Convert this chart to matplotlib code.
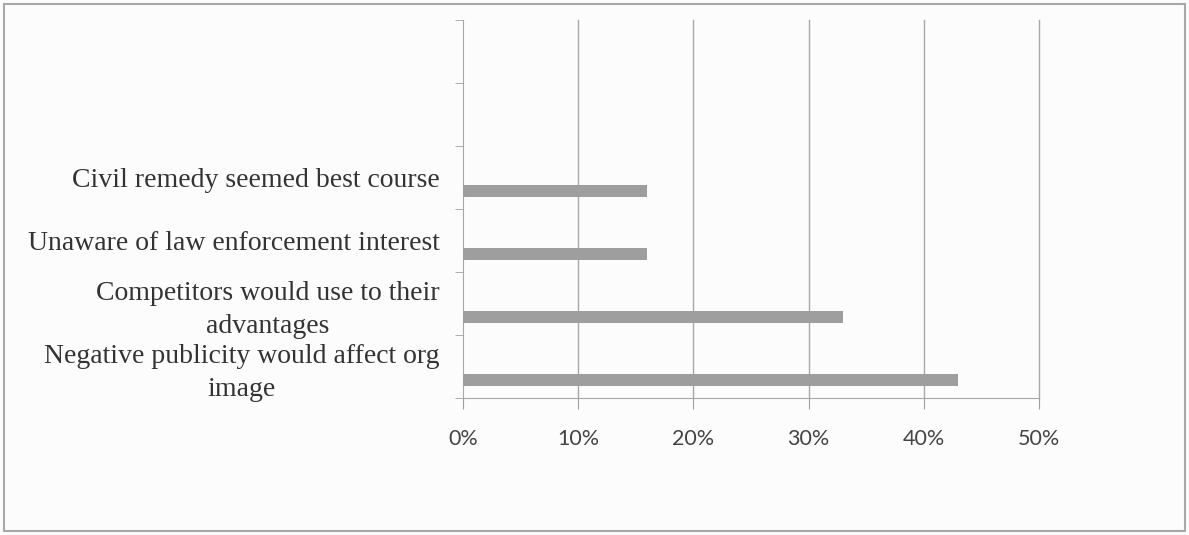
import matplotlib.pyplot as plt
from matplotlib.patches import Rectangle
from matplotlib.ticker import PercentFormatter

# reasons, bottom to top; the two top slots are left empty
reasons = ['Negative publicity would affect org\nimage',
           'Competitors would use to their\nadvantages',
           'Unaware of law enforcement interest',
           'Civil remedy seemed best course',
           '', '']
shares = [43, 33, 16, 16]
ticks_pct = [0, 10, 20, 30, 40, 50]

fig = plt.figure(figsize=(11.89, 5.35), dpi=100)
fig.patch.set_facecolor('#fcfcfc')
fig.patches.append(Rectangle((0.003, 0.008), 0.994, 0.985, transform=fig.transFigure,
                             fill=False, edgecolor='#a8a8a8', linewidth=1.5))

ax = fig.add_axes([0.3894, 0.2561, 0.4845, 0.7065])
ax.set_facecolor('none')

pos = list(range(len(reasons)))
ax.barh([p - 0.22 for p in pos[:len(shares)]], shares, height=0.19,
        color='#9e9e9e', zorder=3)

ax.set_ylim(-0.5, len(reasons) - 0.5)
ax.set_yticks(pos)
ax.set_yticklabels(reasons, fontfamily='Liberation Serif', fontsize=20,
                   color='#333333', linespacing=1.4, multialignment='center')
ax.set_yticks([p - 0.5 for p in pos] + [len(reasons) - 0.5], minor=True)
ax.tick_params(axis='y', which='major', length=0, pad=17)
ax.tick_params(axis='y', which='minor', length=6, color='#a0a0a0')

ax.set_xlim(0, 50)
ax.set_xticks(ticks_pct)
ax.xaxis.set_major_formatter(PercentFormatter(decimals=0))
ax.tick_params(axis='x', length=8, color='#a0a0a0', pad=14,
               labelsize=15.5, labelcolor='#444444')
for lbl in ax.get_xticklabels():
    lbl.set_fontfamily('Lato')

# vertical gridlines, including the one on the right edge
for t in ticks_pct[1:]:
    ax.axvline(t, color='#a8a8a8', linewidth=1.0, zorder=0, clip_on=False)
for side in ['top', 'right']:
    ax.spines[side].set_visible(False)
for side in ['left', 'bottom']:
    ax.spines[side].set_color('#a8a8a8')

fig.savefig('out.png', dpi=100, facecolor=fig.get_facecolor())
